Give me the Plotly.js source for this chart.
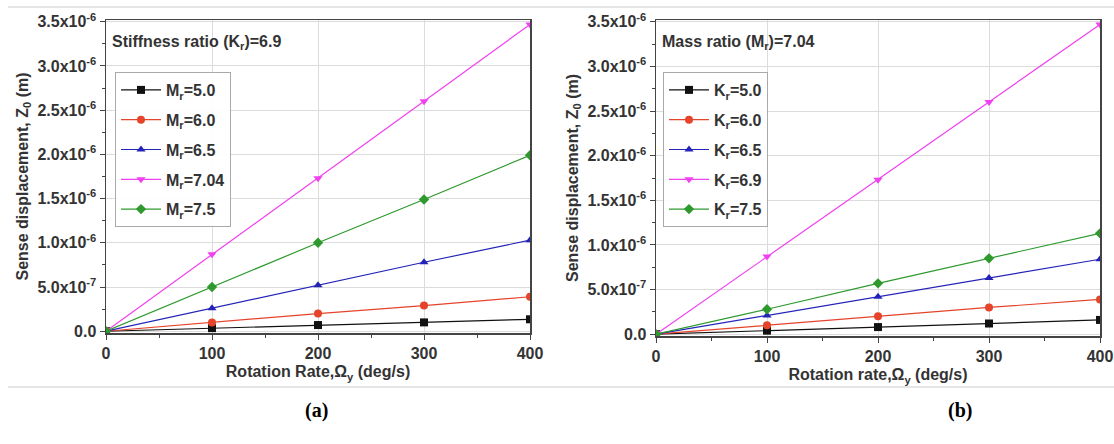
<!DOCTYPE html>
<html>
<head>
<meta charset="utf-8">
<script src="https://cdn.plot.ly/plotly-3.0.1.min.js"></script>
<style>html,body{margin:0;padding:0;background:#fff;}#chart{width:1114px;height:444px;}</style>
</head>
<body>
<div id="chart"></div>
<script>
// ---- data ----
const rates = [0, 100, 200, 300, 400];

// panel (a): stiffness ratio Kr = 6.9, varying Mr
const aNames = ["M<sub>r</sub>=5.0", "M<sub>r</sub>=6.0", "M<sub>r</sub>=6.5", "M<sub>r</sub>=7.04", "M<sub>r</sub>=7.5"];
const aMr50  = [0, 0.035e-6, 0.07e-6, 0.10e-6, 0.135e-6];
const aMr60  = [0, 0.10e-6, 0.20e-6, 0.29e-6, 0.39e-6];
const aMr65  = [0, 0.26e-6, 0.52e-6, 0.78e-6, 1.03e-6];
const aMr704 = [0, 0.87e-6, 1.73e-6, 2.60e-6, 3.47e-6];
const aMr75  = [0, 0.50e-6, 1.00e-6, 1.49e-6, 1.99e-6];

// panel (b): mass ratio Mr = 7.04, varying Kr
const bNames = ["K<sub>r</sub>=5.0", "K<sub>r</sub>=6.0", "K<sub>r</sub>=6.5", "K<sub>r</sub>=6.9", "K<sub>r</sub>=7.5"];
const bKr50 = [0, 0.04e-6, 0.08e-6, 0.12e-6, 0.16e-6];
const bKr60 = [0, 0.10e-6, 0.20e-6, 0.30e-6, 0.39e-6];
const bKr65 = [0, 0.21e-6, 0.42e-6, 0.63e-6, 0.84e-6];
const bKr69 = [0, 0.87e-6, 1.73e-6, 2.60e-6, 3.47e-6];
const bKr75 = [0, 0.28e-6, 0.57e-6, 0.85e-6, 1.13e-6];

const yTickVals = [0, 0.5e-6, 1.0e-6, 1.5e-6, 2.0e-6, 2.5e-6, 3.0e-6, 3.5e-6];
const yTickText = ["0.0", "5.0x10<sup>-7</sup>", "1.0x10<sup>-6</sup>", "1.5x10<sup>-6</sup>", "2.0x10<sup>-6</sup>", "2.5x10<sup>-6</sup>", "3.0x10<sup>-6</sup>", "3.5x10<sup>-6</sup>"];
const xTickVals = [0, 100, 200, 300, 400];

// ---- styles ----
const colors = ["#111111", "#e5432a", "#2323b8", "#f040f0", "#2e9a2e"];
const symbols = ["square", "circle", "triangle-up", "triangle-down", "diamond"];

const W = 1114, H = 444;
const px = x => x / W;
const py = y => 1 - y / H;
const FONT = "Arial, Liberation Sans, sans-serif";

function mk(x, y, i, name, xa, ya, leg) {
  return {
    x: x, y: y, name: name, type: "scatter", mode: "lines+markers",
    xaxis: xa, yaxis: ya, legend: leg, legendgroup: leg + i,
    line: {color: colors[i], width: 1.2},
    marker: {color: colors[i], symbol: symbols[i], size: 8}
  };
}

const aSeries = [aMr50, aMr60, aMr65, aMr704, aMr75];
const bSeries = [bKr50, bKr60, bKr65, bKr69, bKr75];
const traces = [];
aSeries.forEach((s, i) => traces.push(mk(rates, s, i, "<b>" + aNames[i] + "</b>", "x", "y", "legend")));
bSeries.forEach((s, i) => traces.push(mk(rates, s, i, "<b>" + bNames[i] + "</b>", "x2", "y2", "legend2")));

const tickFont = {family: FONT, size: 16, color: "#333"};
const titleFont = {family: FONT, size: 16, color: "#333"};

function xAxis(domain, anchor, title) {
  return {
    domain: domain, anchor: anchor, range: [0, 400],
    tickvals: xTickVals, ticktext: xTickVals.map(v => "<b>" + v + "</b>"),
    tickfont: tickFont, ticks: "outside", ticklen: 5, tickcolor: "#444",
    minor: {ticks: "outside", ticklen: 3, dtick: 50, tickcolor: "#444", showgrid: false},
    showline: true, linecolor: "#444", linewidth: 1.5, mirror: true,
    showgrid: true, gridcolor: "#dcdcdc", gridwidth: 1, zeroline: false,
    title: {text: title, font: titleFont, standoff: 5}
  };
}
function yAxis(domain, anchor, title) {
  return {
    domain: domain, anchor: anchor, range: [-0.02e-6, 3.52e-6],
    tickvals: yTickVals, ticktext: yTickText.map(t => "<b>" + t + "</b>"),
    tickfont: tickFont, ticks: "outside", ticklen: 5, tickcolor: "#444",
    minor: {ticks: "outside", ticklen: 3, dtick: 0.25e-6, tickcolor: "#444", showgrid: false},
    showline: true, linecolor: "#444", linewidth: 1.5, mirror: true,
    showgrid: true, gridcolor: "#dcdcdc", gridwidth: 1, zeroline: false,
    title: {text: title, font: titleFont, standoff: 5}
  };
}

const legendBase = {
  bgcolor: "rgba(255,255,255,0.9)", bordercolor: "#aaa", borderwidth: 1,
  font: {family: FONT, size: 16, color: "#333"},
  xanchor: "left", yanchor: "top", tracegroupgap: 6, itemwidth: 40,
  traceorder: "grouped"
};

const layout = {
  width: W, height: H,
  margin: {l: 0, r: 0, t: 0, b: 0},
  paper_bgcolor: "#fff", plot_bgcolor: "#fff",
  showlegend: true,
  xaxis: xAxis([px(106), px(530)], "y", "<b>Rotation Rate,Ω<sub>y</sub> (deg/s)</b>"),
  yaxis: yAxis([py(333), py(20)], "x", "<b>Sense displacement, Z<sub>0</sub> (m)</b>"),
  xaxis2: xAxis([px(656), px(1100)], "y2", "<b>Rotation rate,Ω<sub>y</sub> (deg/s)</b>"),
  yaxis2: yAxis([py(336), py(20)], "x2", "<b>Sense displacement, Z<sub>0</sub> (m)</b>"),
  legend: Object.assign({}, legendBase, {x: px(115), y: py(72)}),
  legend2: Object.assign({}, legendBase, {x: px(663), y: py(72)}),
  annotations: [
    {text: "<b>Stiffness ratio (K<sub>r</sub>)=6.9</b>", xref: "paper", yref: "paper",
     x: px(110), y: py(42), xanchor: "left", yanchor: "middle", showarrow: false,
     font: {family: FONT, size: 16, color: "#333"}},
    {text: "<b>Mass ratio (M<sub>r</sub>)=7.04</b>", xref: "paper", yref: "paper",
     x: px(660), y: py(42), xanchor: "left", yanchor: "middle", showarrow: false,
     font: {family: FONT, size: 16, color: "#333"}},
    {text: "<b>(a)</b>", xref: "paper", yref: "paper", x: px(316), y: py(410),
     xanchor: "center", yanchor: "middle", showarrow: false,
     font: {family: "Liberation Serif, Times New Roman, serif", size: 20, color: "#000"}},
    {text: "<b>(b)</b>", xref: "paper", yref: "paper", x: px(960), y: py(410),
     xanchor: "center", yanchor: "middle", showarrow: false,
     font: {family: "Liberation Serif, Times New Roman, serif", size: 20, color: "#000"}}
  ],
  shapes: [
    {type: "line", xref: "paper", yref: "paper", x0: px(8), x1: 1, y0: py(7), y1: py(7),
     line: {color: "#e6e6e6", width: 2}},
    {type: "line", xref: "paper", yref: "paper", x0: px(8), x1: 1, y0: py(387), y1: py(387),
     line: {color: "#e6e6e6", width: 2}}
  ]
};

Plotly.newPlot("chart", traces, layout, {staticPlot: true, displayModeBar: false});
</script>
</body>
</html>
